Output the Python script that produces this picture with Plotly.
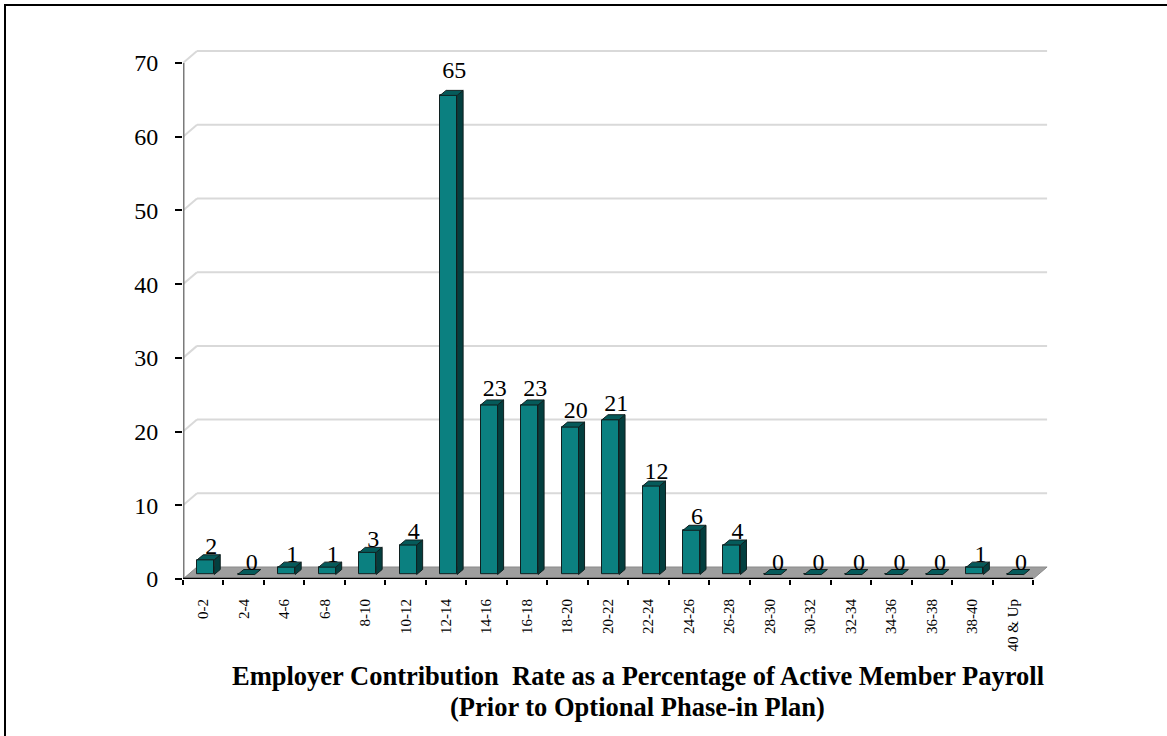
import plotly.graph_objects as go

# ---------------- data ----------------
categories = ["0-2", "2-4", "4-6", "6-8", "8-10", "10-12", "12-14", "14-16", "16-18",
              "18-20", "20-22", "22-24", "24-26", "26-28", "28-30", "30-32", "32-34",
              "34-36", "36-38", "38-40", "40 & Up"]
counts = [2, 0, 1, 1, 3, 4, 65, 23, 23, 20, 21, 12, 6, 4, 0, 0, 0, 0, 0, 1, 0]
y_ticks = [0, 10, 20, 30, 40, 50, 60, 70]
title_line1 = "Employer Contribution  Rate as a Percentage of Active Member Payroll"
title_line2 = "(Prior to Optional Phase-in Plan)"

# ---------------- geometry / style ----------------
W, H = 1167, 736
X0_PX, Y0_PX = 183, 579          # pixel of x=-0.5 / y=0
PX_X, PX_Y = 40.48, 7.371        # pixels per category / per unit
X_MAX, Y_MAX = 21.0, 75.0
n = len(categories)
idx = list(range(n))

WALL_DX, WALL_DY = 14 / PX_X, 12 / PX_Y
BAR_SHIFT, BAR_W, BAR_BASE = 2.5 / PX_X, 17 / PX_X, 4.5 / PX_Y
BAR_DX, BAR_DY = 6 / PX_X, 5 / PX_Y
LABEL_DX, LABEL_DY, LABEL_STRETCH = 0.2, 2.1, 1.026

FRONT = "#0b8080"
SIDE = "#033f3f"
TOP = "#055a5a"
EDGE = "#102020"
FONT = "Liberation Serif"

xdom = [X0_PX / W, (X0_PX + (X_MAX + 0.5) * PX_X) / W]
ydom = [(H - Y0_PX) / H, (H - Y0_PX + Y_MAX * PX_Y) / H]

fig = go.Figure()

# front faces of bars
fig.add_trace(go.Bar(
    x=[i + BAR_SHIFT for i in idx], y=counts, base=BAR_BASE, width=BAR_W,
    marker=dict(color=FRONT, line=dict(color=EDGE, width=1)),
    hoverinfo="skip", showlegend=False))

# side and top faces
sx, sy, tx, ty = [], [], [], []
for i, v in zip(idx, counts):
    xl = i + BAR_SHIFT - BAR_W / 2
    xr = i + BAR_SHIFT + BAR_W / 2
    yb = BAR_BASE
    yt = BAR_BASE + v
    if v > 0:
        sx += [xr, xr + BAR_DX, xr + BAR_DX, xr, xr, None]
        sy += [yb, yb + BAR_DY, yt + BAR_DY, yt, yb, None]
    tx += [xl, xr, xr + BAR_DX, xl + BAR_DX, xl, None]
    ty += [yt, yt, yt + BAR_DY, yt + BAR_DY, yt, None]

fig.add_trace(go.Scatter(x=sx, y=sy, mode="lines", fill="toself", fillcolor=SIDE,
                         line=dict(color=EDGE, width=1), hoverinfo="skip",
                         showlegend=False))
fig.add_trace(go.Scatter(x=tx, y=ty, mode="lines", fill="toself", fillcolor=TOP,
                         line=dict(color=EDGE, width=1), hoverinfo="skip",
                         showlegend=False))

# data labels
fig.add_trace(go.Scatter(
    x=[i + LABEL_DX for i in idx], y=[v * LABEL_STRETCH + LABEL_DY for v in counts],
    mode="text", text=[str(v) for v in counts], textposition="middle center",
    textfont=dict(family=FONT, size=24, color="black"),
    hoverinfo="skip", showlegend=False, cliponaxis=False))

shapes = []
# floor
shapes.append(dict(
    type="path", xref="x", yref="y", layer="below",
    path=(f"M -0.5 0 L {n - 0.5} 0 L {n - 0.5 + WALL_DX} {WALL_DY} "
          f"L {-0.5 + WALL_DX} {WALL_DY} Z"),
    fillcolor="#9e9e9e", line=dict(color="#8a8a8a", width=1)))
# back-wall gridlines + left-wall diagonals
for v in y_ticks[1:]:
    shapes.append(dict(type="line", xref="x", yref="y", layer="below",
                       x0=-0.5 + WALL_DX, x1=n - 0.5 + WALL_DX,
                       y0=v + WALL_DY, y1=v + WALL_DY,
                       line=dict(color="#d9d9d9", width=2)))
    shapes.append(dict(type="line", xref="x", yref="y", layer="below",
                       x0=-0.5, x1=-0.5 + WALL_DX, y0=v, y1=v + WALL_DY,
                       line=dict(color="#d9d9d9", width=2)))
# y axis line
shapes.append(dict(type="line", xref="x", yref="y", layer="above",
                   x0=-0.5, x1=-0.5, y0=0, y1=y_ticks[-1],
                   line=dict(color="#7a7a7a", width=3)))
# x axis line
shapes.append(dict(type="line", xref="x", yref="y", layer="above",
                   x0=-0.5, x1=n - 0.5, y0=0, y1=0,
                   line=dict(color="black", width=2.5)))
# figure border (top and left)
shapes.append(dict(type="line", xref="paper", yref="paper",
                   x0=4 / W, x1=1, y0=1 - 5 / H, y1=1 - 5 / H,
                   line=dict(color="black", width=2)))
shapes.append(dict(type="line", xref="paper", yref="paper",
                   x0=5 / W, x1=5 / W, y0=0, y1=1 - 4 / H,
                   line=dict(color="black", width=2)))

annotations = [
    dict(text=f"<b>{title_line1}</b>", xref="paper", yref="paper",
         x=637.5 / W, y=1 - 676 / H, xanchor="center", yanchor="middle",
         showarrow=False, font=dict(family=FONT, size=26.5, color="black")),
    dict(text=f"<b>{title_line2}</b>", xref="paper", yref="paper",
         x=637.5 / W, y=1 - 707 / H, xanchor="center", yanchor="middle",
         showarrow=False, font=dict(family=FONT, size=26.5, color="black")),
]

fig.update_layout(
    width=W, height=H, autosize=False,
    margin=dict(l=0, r=0, t=0, b=0, autoexpand=False),
    paper_bgcolor="white", plot_bgcolor="white",
    showlegend=False, bargap=0,
    shapes=shapes, annotations=annotations,
    xaxis=dict(domain=xdom, range=[-0.5, X_MAX], tickmode="array",
               tickvals=idx, ticktext=categories, tickangle=-90,
               ticks="", showgrid=False, zeroline=False, showline=False,
               ticklabelstandoff=16,
               tickfont=dict(family=FONT, size=15, color="black")),
    xaxis2=dict(domain=xdom, range=[-0.5, X_MAX], overlaying="x", anchor="y",
                side="bottom", tickmode="array",
                tickvals=[i - 0.5 for i in range(n + 1)], showticklabels=False,
                ticks="outside", ticklen=5, tickwidth=2, tickcolor="black",
                showgrid=False, zeroline=False, showline=False),
    yaxis=dict(domain=ydom, range=[0, Y_MAX], tickmode="array", tickvals=y_ticks,
               ticks="outside", ticklen=7, tickwidth=2, tickcolor="black",
               showgrid=False, zeroline=False, showline=False,
               ticklabelstandoff=12,
               tickfont=dict(family=FONT, size=24, color="black")),
)

# invisible trace to activate xaxis2
fig.add_trace(go.Scatter(x=[0], y=[0], xaxis="x2", yaxis="y", mode="markers",
                         marker=dict(opacity=0), hoverinfo="skip", showlegend=False))

fig.write_html("out.html", config={"responsive": False})
